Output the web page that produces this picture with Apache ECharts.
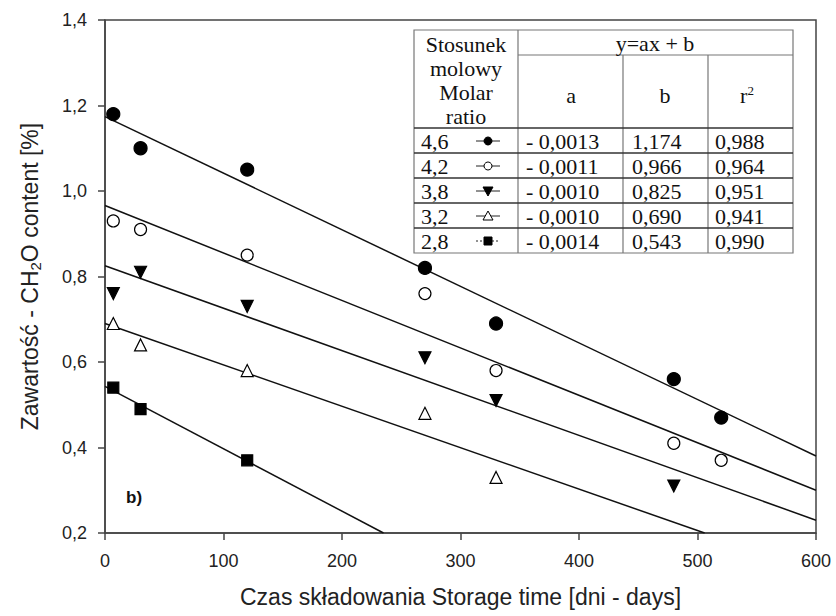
<!DOCTYPE html>
<html>
<head>
<meta charset="utf-8">
<script src="https://cdn.jsdelivr.net/npm/echarts@6/dist/echarts.min.js"></script>
<style>
  html, body { margin: 0; padding: 0; background: #fff; }
  #chart { width: 836px; height: 616px; }
</style>
</head>
<body>
<div id="chart"></div>
<script>
// measured points [days, CH2O %]
const ratio46 = [[7, 1.18], [30, 1.10], [120, 1.05], [270, 0.82], [330, 0.69], [480, 0.56], [520, 0.47]];
const ratio42 = [[7, 0.93], [30, 0.91], [120, 0.85], [270, 0.76], [330, 0.58], [480, 0.41], [520, 0.37]];
const ratio38 = [[7, 0.76], [30, 0.81], [120, 0.73], [270, 0.61], [330, 0.51], [480, 0.31]];
const ratio32 = [[7, 0.69], [30, 0.64], [120, 0.58], [270, 0.48], [330, 0.33]];
const ratio28 = [[7, 0.54], [30, 0.49], [120, 0.37]];

// regression lines, end points
const fit46 = [[0, 1.174], [600, 0.38]];
const fit42 = [[0, 0.966], [600, 0.30]];
const fit38 = [[0, 0.825], [600, 0.23]];
const fit32 = [[0, 0.690], [506, 0.2]];
const fit28 = [[0, 0.543], [235, 0.2]];

const xTickLabels = ['0', '100', '200', '300', '400', '500', '600'];
const yTickLabels = ['0,2', '0,4', '0,6', '0,8', '1,0', '1,2', '1,4'];

// table contents
const tableRatios = ['4,6', '4,2', '3,8', '3,2', '2,8'];
const tableA = ['- 0,0013', '- 0,0011', '- 0,0010', '- 0,0010', '- 0,0014'];
const tableB = ['1,174', '0,966', '0,825', '0,690', '0,543'];
const tableR2 = ['0,988', '0,964', '0,951', '0,941', '0,990'];

const SERIF = '"Liberation Serif", "DejaVu Serif", serif';
const SANS = '"Liberation Sans", Arial, sans-serif';

const markerStyles = [
  { symbol: 'circle', fill: '#000', rotate: 0, size: 13 },
  { symbol: 'circle', fill: '#fff', rotate: 0, size: 12 },
  { symbol: 'triangle', fill: '#000', rotate: 180, size: 12 },
  { symbol: 'triangle', fill: '#fff', rotate: 0, size: 12 },
  { symbol: 'rect', fill: '#000', rotate: 0, size: 11 },
];

function txt(x, y, text, align, extra) {
  return Object.assign({
    type: 'text',
    x: x,
    y: y,
    z: 100,
    style: {
      text: text,
      font: '22px ' + SERIF,
      fill: '#111',
      align: align || 'left',
      textAlign: align || 'left',
      verticalAlign: 'middle',
      textVerticalAlign: 'middle',
    },
  }, extra || {});
}

function hline(x1, x2, y, color, w) {
  return { type: 'line', z: 100, shape: { x1: x1, y1: y, x2: x2, y2: y }, style: { stroke: color, lineWidth: w } };
}
function vline(x, y1, y2, color, w) {
  return { type: 'line', z: 100, shape: { x1: x, y1: y1, x2: x, y2: y2 }, style: { stroke: color, lineWidth: w } };
}

function marker(i, cx, cy) {
  const m = markerStyles[i];
  const st = { fill: m.fill, stroke: '#000', lineWidth: 1 };
  const out = [hline(cx - 12, cx + 12, cy, '#222', 1)];
  if (i === 4) out[0].style.lineDash = [2, 2];
  if (m.symbol === 'circle') {
    out.push({ type: 'circle', z: 101, shape: { cx: cx, cy: cy, r: 4 }, style: st });
  } else if (m.symbol === 'rect') {
    out.push({ type: 'rect', z: 101, shape: { x: cx - 4, y: cy - 4, width: 8, height: 8 }, style: st });
  } else if (m.rotate === 180) {
    out.push({ type: 'polygon', z: 101, shape: { points: [[cx - 5, cy - 4], [cx + 5, cy - 4], [cx, cy + 5]] }, style: st });
  } else {
    out.push({ type: 'polygon', z: 101, shape: { points: [[cx - 5, cy + 4], [cx + 5, cy + 4], [cx, cy - 5]] }, style: st });
  }
  return out;
}

function buildTable() {
  const cols = [414, 518, 623, 708, 793];
  const top = 30, sub = 55, head = 128, rowH = 25;
  const bottom = head + rowH * tableRatios.length;
  const grey = '#777', dark = '#333';
  const els = [];
  els.push({ type: 'rect', z: 99, shape: { x: cols[0], y: top, width: cols[4] - cols[0], height: bottom - top }, style: { fill: '#fff', stroke: grey, lineWidth: 1.2 } });
  els.push(hline(cols[1], cols[4], sub, grey, 1.2));
  els.push(vline(cols[1], top, bottom, grey, 1.2));
  els.push(vline(cols[2], sub, bottom, grey, 1.2));
  els.push(vline(cols[3], sub, bottom, grey, 1.2));
  els.push(hline(cols[0], cols[4], head, dark, 1.6));
  for (let i = 1; i < tableRatios.length; i++) {
    els.push(hline(cols[0], cols[4], head + rowH * i, dark, 1.6));
  }
  ['Stosunek', 'molowy', 'Molar', 'ratio'].forEach((t, i) => {
    els.push(txt(466, 44 + i * 24.3, t, 'center'));
  });
  els.push(txt(655, 43, 'y=ax + b', 'center'));
  els.push(txt(571, 95, 'a', 'center'));
  els.push(txt(665, 95, 'b', 'center'));
  const r2 = txt(747, 95, 'r{sup|2}', 'center');
  r2.style.rich = { sup: { font: '13px ' + SERIF, fill: '#111', verticalAlign: 'top', lineHeight: 13, padding: [0, 0, 9, 0] } };
  els.push(r2);
  tableRatios.forEach((r, i) => {
    const cy = head + rowH * i + rowH / 2 + 0.5;
    els.push(txt(421, cy, r));
    els.push(txt(526, cy, tableA[i]));
    els.push(txt(632, cy, tableB[i]));
    els.push(txt(715, cy, tableR2[i]));
    marker(i, 488, cy).forEach((e) => els.push(e));
  });
  return els;
}

function scatterSeries(name, data, i) {
  const m = markerStyles[i];
  return {
    name: name,
    type: 'scatter',
    data: data,
    symbol: m.symbol,
    symbolSize: m.size,
    symbolRotate: m.rotate,
    itemStyle: { color: m.fill, borderColor: '#000', borderWidth: 1.2, opacity: 1 },
    z: 5,
  };
}

function lineSeries(name, data) {
  return {
    name: name,
    type: 'line',
    data: data,
    symbol: 'none',
    lineStyle: { color: '#111', width: 1.5 },
    z: 3,
  };
}

const chart = echarts.init(document.getElementById('chart'), null, { renderer: 'svg' });
const option = {
  animation: false,
  backgroundColor: '#fff',
  grid: {
    left: 105,
    right: 20,
    top: 20,
    bottom: 83,
    show: true,
    borderColor: '#444',
    borderWidth: 1.5,
  },
  xAxis: {
    type: 'value',
    min: 0,
    max: 600,
    interval: 100,
    name: 'Czas składowania Storage time [dni - days]',
    nameLocation: 'middle',
    nameGap: 52,
    nameTextStyle: { fontFamily: SANS, fontSize: 23, color: '#222' },
    axisLine: { show: true, onZero: false, lineStyle: { color: '#444', width: 1.5 } },
    axisTick: { show: true, inside: false, length: 7, lineStyle: { color: '#444', width: 1.5 } },
    axisLabel: {
      margin: 19,
      fontFamily: SANS,
      fontSize: 18,
      color: '#222',
      formatter: (v) => xTickLabels[Math.round(v / 100)],
    },
    splitLine: { show: false },
  },
  yAxis: {
    type: 'value',
    min: 0.2,
    max: 1.4,
    interval: 0.2,
    name: 'Zawartość - CH{sub|2}O content [%]',
    nameLocation: 'middle',
    nameGap: 62,
    nameTextStyle: {
      fontFamily: SANS,
      fontSize: 23,
      color: '#222',
      lineHeight: 27,
      rich: {
        sub: { fontFamily: SANS, fontSize: 15, color: '#222', lineHeight: 15, verticalAlign: 'bottom' },
      },
    },
    axisLine: { show: true, onZero: false, lineStyle: { color: '#444', width: 1.5 } },
    axisTick: { show: true, inside: false, length: 7, lineStyle: { color: '#444', width: 1.5 } },
    axisLabel: {
      margin: 18,
      fontFamily: SANS,
      fontSize: 18,
      color: '#222',
      formatter: (v) => yTickLabels[Math.round((v - 0.2) / 0.2)],
    },
    splitLine: { show: false },
  },
  graphic: [
    {
      type: 'text',
      x: 126,
      y: 497,
      z: 100,
      style: { text: 'b)', font: 'bold 17px ' + SANS, fill: '#111', verticalAlign: 'middle', textVerticalAlign: 'middle' },
    },
  ].concat(buildTable()),
  series: [
    lineSeries('fit 4,6', fit46),
    lineSeries('fit 4,2', fit42),
    lineSeries('fit 3,8', fit38),
    lineSeries('fit 3,2', fit32),
    lineSeries('fit 2,8', fit28),
    scatterSeries('4,6', ratio46, 0),
    scatterSeries('4,2', ratio42, 1),
    scatterSeries('3,8', ratio38, 2),
    scatterSeries('3,2', ratio32, 3),
    scatterSeries('2,8', ratio28, 4),
  ],
};
chart.setOption(option);
</script>
</body>
</html>
